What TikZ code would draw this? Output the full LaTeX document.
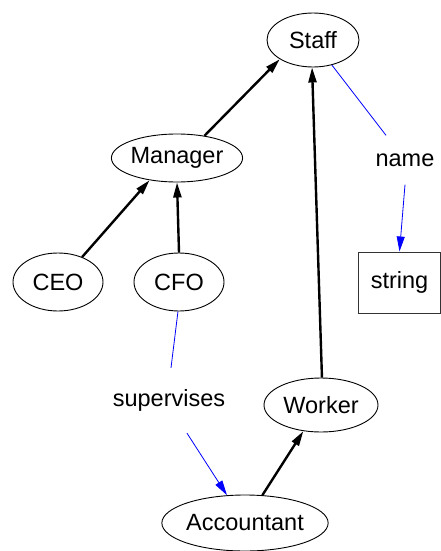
\documentclass[tikz,border=0pt]{standalone}
\usepackage{fontspec}
\setmainfont{Liberation Sans}
\usetikzlibrary{shapes.geometric,arrows.meta}
\begin{document}
\begin{tikzpicture}[x=1pt,y=-1pt,
  every node/.style={font=\fontsize{23.5}{28}\selectfont},
  cls/.style={draw,ellipse,line width=0.9pt,inner sep=0pt},
  lbl/.style={inner sep=0pt},
  typebox/.style={draw=black!80,line width=1pt,inner sep=0pt},
  isa/.style={line width=2.4pt,-{Triangle[length=15pt,width=8pt]}},
  assoc/.style={blue,line width=0.8pt},
  assocarrow/.style={blue,line width=0.8pt,-{Triangle[length=15pt,width=8pt]}}]
\useasboundingbox (0,0) rectangle (440,551);
% classes
\node[cls,minimum width=92pt,minimum height=54pt] (staff) at (313,40) {Staff};
\node[cls,minimum width=120pt,minimum height=48pt] (manager) at (177,158) {Manager};
\node[cls,minimum width=90pt,minimum height=58pt] (ceo) at (58,282) {CEO};
\node[cls,minimum width=90pt,minimum height=58pt] (cfo) at (179,282) {CFO};
\node[cls,minimum width=114pt,minimum height=54pt] (worker) at (321,405) {Worker};
\node[cls,minimum width=156pt,minimum height=56pt] (acc) at (245,523) {Accountant};
% attribute and association labels
\node[inner sep=18pt] (name) at (405,160) {name};
\node[typebox,minimum width=82pt,minimum height=61pt] (string) at (399.5,282.5) {string};
\node[lbl,minimum width=120pt,minimum height=65pt] (sup) at (169,400.5) {supervises};
% inheritance
\draw[isa] (manager.39) -- (staff.210);
\draw[isa] (ceo.46) -- (manager.219);
\draw[isa] (cfo.north) -- (manager.south);
\draw[isa] (worker.88) -- (staff.268);
\draw[isa] (acc.58) -- (worker.236);
% attribute
\draw[assoc] (staff.307) -- (name);
\draw[assocarrow] (name.south) -- (string.north);
% association
\draw[assoc] (cfo.268) -- ([xshift=2pt]sup.north);
\draw[assocarrow] ([xshift=18pt]sup.south) -- (acc.123);
\end{tikzpicture}
\end{document}
